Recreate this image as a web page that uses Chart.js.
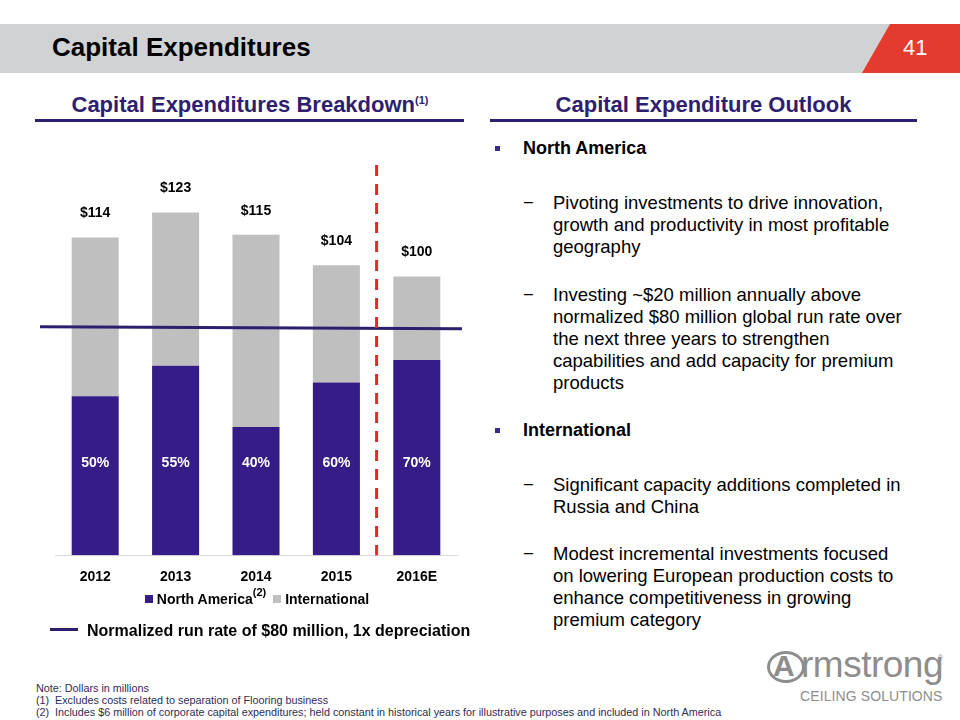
<!DOCTYPE html>
<html>
<head>
<meta charset="utf-8">
<script src="https://cdn.jsdelivr.net/npm/chart.js@4.4.0/dist/chart.umd.min.js"></script>
<style>
  body { margin: 0; width: 960px; height: 720px; background: #fff; position: relative; overflow: hidden;
         font-family: "Liberation Sans", Arial, sans-serif; }
  .abs { position: absolute; }
  .band { left: 0; top: 24px; width: 960px; height: 49px; background: #d1d2d4; }
  .red { left: 862px; top: 24px; width: 98px; height: 49px; background: #e53a2e;
         clip-path: polygon(28px 0, 98px 0, 98px 49px, 0 49px); }
  .title { left: 52px; top: 32px; font-size: 26px; font-weight: bold; color: #000; }
  .pagenum { left: 903px; top: 35px; font-size: 22px; color: #fff; }
  .sub { font-size: 22px; font-weight: bold; color: #2e1e70; text-align: center; white-space: nowrap; }
  .rule { height: 3px; background: #2e1e70; }
  sup { font-size: 11px; vertical-align: 8px; }
  .col { left: 0; top: 0; font-size: 18.5px; line-height: 22px; color: #000; }
  .col .b { position: absolute; left: 523px; font-weight: bold; font-size: 18px; white-space: nowrap; }
  .col .b:before { content: ""; position: absolute; left: -28px; top: 9px; width: 5px; height: 5px; background: #3a2a8a; }
  .col .d { position: absolute; left: 553px; white-space: nowrap; }
  .col .d:before { content: "\2212"; position: absolute; left: -30px; }
  .legend { left: 0; width: 514px; top: 586px; text-align: center; font-size: 14px; font-weight: bold; }
  .sw { display: inline-block; width: 8px; height: 8px; margin-right: 4px; vertical-align: 1px; }
  .lineleg { left: 50px; top: 622px; font-size: 16px; font-weight: bold; white-space: nowrap; }
  .lineleg span { display: inline-block; width: 28px; height: 3px; background: #2e1e70; vertical-align: 5px; margin-right: 9px; }
  .notes { left: 36px; top: 682px; font-size: 10.8px; line-height: 12px; color: #2f2c55; white-space: nowrap; }
  .notes i { font-style: normal; display: inline-block; width: 16px; }
  .logo { color: #8d8d8d; white-space: nowrap; line-height: 1; }
</style>
</head>
<body>
<div class="abs band"></div>
<div class="abs red"></div>
<div class="abs title">Capital Expenditures</div>
<div class="abs pagenum">41</div>

<div class="abs sub" style="left:35px; width:430px; top:92px;">Capital Expenditures Breakdown<sup>(1)</sup></div>
<div class="abs rule" style="left:35px; width:429px; top:119px;"></div>
<div class="abs sub" style="left:490px; width:427px; top:92px;">Capital Expenditure Outlook</div>
<div class="abs rule" style="left:490px; width:427px; top:119px;"></div>

<div class="abs" style="left:0; top:130px; width:480px; height:470px;">
  <canvas id="capexChart"></canvas>
</div>

<div class="abs legend">
  <span class="sw" style="background:#361c87"></span>North America<sup>(2)</sup>
  <span class="sw" style="background:#bfbfbf; margin-left:3px"></span>International
</div>
<div class="abs lineleg"><span></span>Normalized run rate of $80 million, 1x depreciation</div>

<div class="abs col">
  <div class="b" style="top:137px">North America</div>
  <div class="d" style="top:192px">Pivoting investments to drive innovation,<br>growth and productivity in most profitable<br>geography</div>
  <div class="d" style="top:284px">Investing ~$20 million annually above<br>normalized $80 million global run rate over<br>the next three years to strengthen<br>capabilities and add capacity for premium<br>products</div>
  <div class="b" style="top:419px">International</div>
  <div class="d" style="top:474px">Significant capacity additions completed in<br>Russia and China</div>
  <div class="d" style="top:543px">Modest incremental investments focused<br>on lowering European production costs to<br>enhance competitiveness in growing<br>premium category</div>
</div>

<div class="abs notes">
  Note: Dollars in millions<br>
  <i>(1)</i>&nbsp;Excludes costs related to separation of Flooring business<br>
  <i>(2)</i>&nbsp;Includes $6 million of corporate capital expenditures; held constant in historical years for illustrative purposes and included in North America
</div>

<div class="abs" style="left:767px; top:651px; width:32px; height:26px; border:3px solid #8d8d8d; border-radius:50%;"></div>
<div class="abs logo" style="left:773px; top:651px; font-size:30px; font-weight:bold;">A</div>
<div class="abs logo" style="left:801px; top:646px; font-size:37px; letter-spacing:-0.5px;">rmstrong</div>
<div class="abs logo" style="left:938px; top:654px; font-size:7px;">®</div>
<div class="abs logo" style="left:800px; top:689px; font-size:14px; letter-spacing:0.1px;">CEILING SOLUTIONS</div>

<script>
const years = ['2012', '2013', '2014', '2015', '2016E'];
const northAmerica = [57, 68, 46, 62, 70];
const international = [57, 55, 69, 42, 30];
const naShare = ['50%', '55%', '40%', '60%', '70%'];
const runRate = 82;

const totals = northAmerica.map((v, i) => v + international[i]);

const overlays = {
    id: 'overlays',
    afterDatasetsDraw(chart) {
        const { ctx, chartArea, scales: { x, y } } = chart;
        ctx.save();
        ctx.textAlign = 'center';
        ctx.textBaseline = 'middle';

        // totals above bars
        ctx.font = 'bold 14px "Liberation Sans", Arial';
        ctx.fillStyle = '#000';
        totals.forEach((t, i) => {
            ctx.fillText('$' + t, x.getPixelForValue(i), y.getPixelForValue(t) - 24);
        });

        // NA share inside purple bars
        ctx.fillStyle = '#fff';
        naShare.forEach((s, i) => {
            ctx.fillText(s, x.getPixelForValue(i), y.getPixelForValue(33));
        });

        // run rate line
        const ry = y.getPixelForValue(runRate);
        ctx.strokeStyle = '#2e1e70';
        ctx.lineWidth = 3;
        ctx.beginPath();
        ctx.moveTo(chartArea.left - 15, ry);
        ctx.lineTo(chartArea.right + 5, ry + 2);
        ctx.stroke();

        // actual / estimate divider
        const dx = (x.getPixelForValue(3) + x.getPixelForValue(4)) / 2;
        ctx.strokeStyle = '#e8262b';
        ctx.lineWidth = 3;
        ctx.setLineDash([11, 8]);
        ctx.beginPath();
        ctx.moveTo(dx, chartArea.top);
        ctx.lineTo(dx, chartArea.bottom);
        ctx.stroke();
        ctx.restore();
    }
};

new Chart(document.getElementById('capexChart'), {
    type: 'bar',
    data: {
        labels: years,
        datasets: [
            { label: 'North America', data: northAmerica, backgroundColor: '#361c87' },
            { label: 'International', data: international, backgroundColor: '#bfbfbf' }
        ]
    },
    options: {
        responsive: true,
        maintainAspectRatio: false,
        animation: false,
        barPercentage: 0.585,
        categoryPercentage: 1,
        layout: { padding: { left: 55, right: 23, top: 35, bottom: 8 } },
        plugins: { legend: { display: false }, tooltip: { enabled: false } },
        scales: {
            x: {
                stacked: true,
                grid: { display: false },
                border: { color: '#d9d9d9' },
                ticks: { color: '#000', padding: 6, font: { size: 14, weight: 'bold', family: '"Liberation Sans", Arial' } }
            },
            y: { stacked: true, display: false, min: 0, max: 140 }
        }
    },
    plugins: [overlays]
});
</script>
</body>
</html>
